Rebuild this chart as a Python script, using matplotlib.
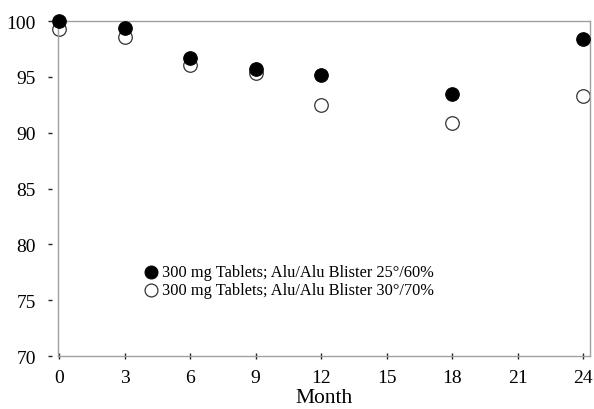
import matplotlib
matplotlib.use("Agg")
import matplotlib.pyplot as plt
from matplotlib.lines import Line2D

# assay (% of initial) over storage time
months = [0, 3, 6, 9, 12, 18, 24]
assay_25_60 = [100.0, 99.4, 96.7, 95.7, 95.2, 93.5, 98.4]
assay_30_70 = [99.3, 98.6, 96.1, 95.4, 92.5, 90.9, 93.3]
labels = ["300 mg Tablets; Alu/Alu Blister 25\u00b0/60%",
          "300 mg Tablets; Alu/Alu Blister 30\u00b0/70%"]
xticks = [0, 3, 6, 9, 12, 15, 18, 21, 24]
yticks = [70, 75, 80, 85, 90, 95, 100]

plt.rcParams['font.family'] = ['Liberation Serif', 'DejaVu Serif']

fig = plt.figure(figsize=(5.94, 4.10), dpi=100)
ax = fig.add_axes([0.0976, 0.129, 0.8954, 0.817])

ax.scatter(months, assay_25_60, s=95, c='black', edgecolors='black',
           linewidths=0.8, zorder=3, label=labels[0], clip_on=False)
ax.scatter(months, assay_30_70, s=95, c='white', edgecolors='#333333',
           linewidths=0.9, zorder=2, label=labels[1], clip_on=False)

ax.set_xlim(-0.05, 24.3)
ax.set_ylim(70, 100)
ax.set_xticks(xticks)
ax.set_yticks(yticks)

for sp in ax.spines.values():
    sp.set_color('#a0a0a0')
    sp.set_linewidth(1.0)

# y ticks sit a little away from the frame
ax.spines['left'].set_position(('outward', 4))
ax.spines['left'].set_visible(False)
ax.add_line(Line2D([0, 0], [0, 1], transform=ax.transAxes, color='#a0a0a0',
                   linewidth=1.0, clip_on=False))

ax.tick_params(axis='y', direction='out', length=3, width=1.0, color='#222222',
               labelsize=14, pad=9)
ax.tick_params(axis='x', direction='inout', length=4, width=1.0, color='#222222',
               labelsize=14, pad=7)
ax.set_xlabel("Month", fontsize=15.5, labelpad=2)

leg = ax.legend(loc='upper left', bbox_to_anchor=(0.14, 0.30), frameon=False,
                fontsize=11.8, handletextpad=0.0, borderpad=0.0,
                labelspacing=0.15, markerscale=0.95, handlelength=1.3)

fig.savefig("out.png", dpi=100)
